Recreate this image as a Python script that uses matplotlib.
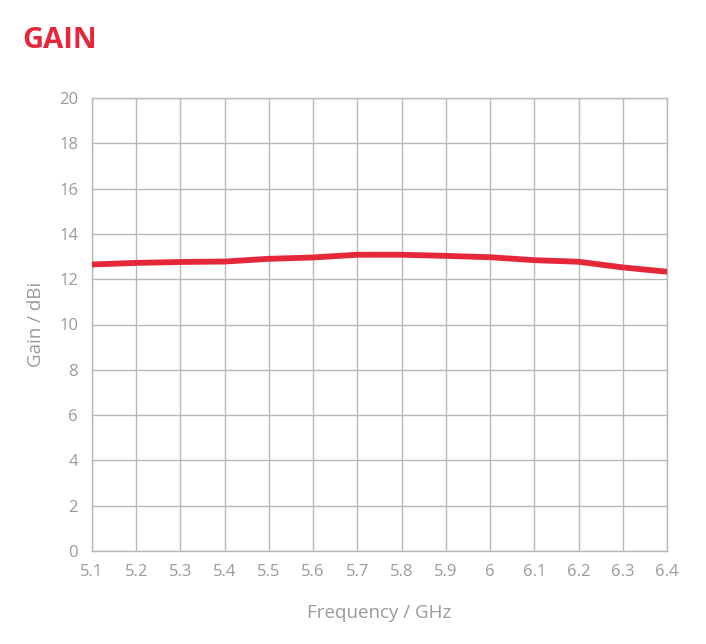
import matplotlib
matplotlib.use("Agg")
import matplotlib.pyplot as plt

freq_ghz = [5.1, 5.2, 5.3, 5.4, 5.5, 5.6, 5.7, 5.8, 5.9, 6.0, 6.1, 6.2, 6.3, 6.4]
gain_dbi = [12.65, 12.72, 12.76, 12.78, 12.9, 12.96, 13.08, 13.08, 13.03, 12.97, 12.84, 12.77, 12.52, 12.33]
x_tick_labels = ["5.1", "5.2", "5.3", "5.4", "5.5", "5.6", "5.7", "5.8", "5.9", "6",
                 "6.1", "6.2", "6.3", "6.4"]
y_ticks = [0, 2, 4, 6, 8, 10, 12, 14, 16, 18, 20]

RED = "#e5273a"
GRID = "#b8b8b8"
TXT = "#9a9a9a"

plt.rcParams["font.family"] = ["Open Sans", "DejaVu Sans"]

fig = plt.figure(figsize=(7.06, 6.44), dpi=100)
ax = fig.add_axes([92 / 706, 1 - 551 / 644, (667 - 92) / 706, (551 - 98) / 644])

ax.plot(freq_ghz, gain_dbi, color=RED, linewidth=4.2, solid_capstyle="round",
        solid_joinstyle="round", zorder=3)

ax.set_xlim(5.1, 6.4)
ax.set_ylim(0, 20)
ax.set_xticks(freq_ghz)
ax.set_xticklabels(x_tick_labels)
ax.set_yticks(y_ticks)
ax.grid(True, color=GRID, linewidth=1.0)
ax.tick_params(length=0, colors=TXT, labelsize=12)
ax.tick_params(axis="x", pad=9)
ax.tick_params(axis="y", pad=10)
for s in ax.spines.values():
    s.set_color(GRID)
    s.set_linewidth(1.0)

ax.set_xlabel("Frequency / GHz", color=TXT, fontsize=13.5, labelpad=18)
ax.set_ylabel("Gain / dBi", color=TXT, fontsize=13.5, labelpad=10)

fig.text(22 / 706, 1 - 40 / 644, "GAIN", color=RED, fontsize=21, fontweight="bold",
         ha="left", va="center")

fig.savefig("out.png", dpi=100, facecolor="white")
